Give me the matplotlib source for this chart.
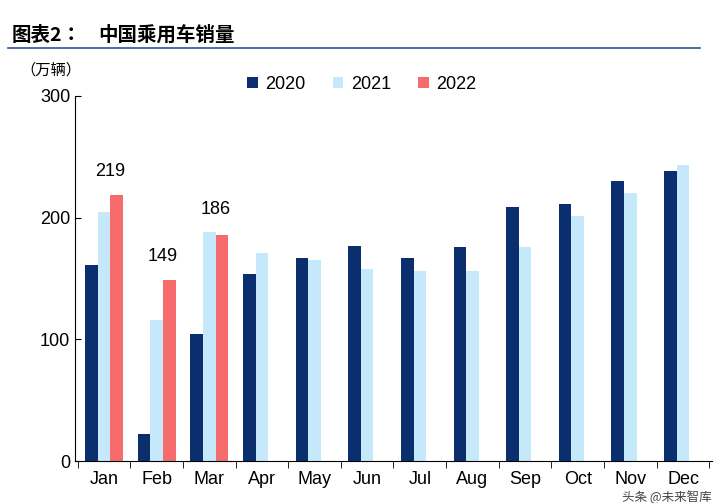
import matplotlib
matplotlib.use("Agg")
import matplotlib.pyplot as plt
from matplotlib.font_manager import FontProperties
import numpy as np

plt.rcParams['font.family'] = 'Liberation Sans'
CJKB = FontProperties(fname="/usr/share/fonts/opentype/noto/NotoSansCJK-Bold.ttc")
CJKR = FontProperties(fname="/usr/share/fonts/opentype/noto/NotoSansCJK-Regular.ttc")

months = ["Jan","Feb","Mar","Apr","May","Jun","Jul","Aug","Sep","Oct","Nov","Dec"]
s2020 = [161, 22, 104, 154, 167, 177, 167, 176, 209, 211, 230, 238]
s2021 = [205, 116, 188, 171, 165, 158, 156, 156, 176, 201, 220, 243]
s2022 = [219, 149, 186]
yticks = [0, 100, 200, 300]

fig = plt.figure(figsize=(7.16, 5.03), dpi=100)
ax = fig.add_axes([75/716, 1-461/503, 637/716, 365/503])
x = np.arange(len(months))
w = 0.24
ax.bar(x - w, s2020, w, color="#0b2f6e", label="2020")
ax.bar(x, s2021, w, color="#c5e9fb", label="2021")
ax.bar(x[:3] + w, s2022, w, color="#f66b6b", label="2022")
for i, v in enumerate(s2022):
    ax.text(x[i] + w/2, max(v, s2021[i]) + 12, str(v), ha="center", va="bottom", fontsize=13)
ax.set_xlim(-0.55, 11.55)
ax.set_ylim(0, 300)
ax.set_yticks(yticks)
ax.set_xticks(x)
ax.set_xticklabels(months, fontsize=13)
ax.tick_params(axis='y', labelsize=13, direction='in', length=4)
ax.set_xticks(np.arange(-0.5, 12, 1), minor=True)
ax.tick_params(axis='x', which='major', length=0, pad=7)
ax.tick_params(axis='x', which='minor', length=5, direction='out')
for s in ["top", "right"]:
    ax.spines[s].set_visible(False)
ax.legend(loc="upper center", bbox_to_anchor=(0.45, 1.1), ncol=3, frameon=False,
          fontsize=13, handlelength=0.6, handleheight=0.6, columnspacing=1.5, handletextpad=0.4)

fig.text(12/716, 1-35/503, "图表2：", fontsize=14, va="center", fontproperties=CJKB)
fig.text(98/716, 1-35/503, "中国乘用车销量", fontsize=14, va="center", fontproperties=CJKB)
fig.add_artist(plt.Line2D([8/716, 700/716], [1-48/503, 1-48/503], color="#2e5597", lw=1.2))
fig.text(20/716, 1-70/503, "（万辆）", fontsize=11, va="center", fontproperties=CJKR)
fig.text(712/716, 1-497/503, "头条 @未来智库", fontsize=9, ha="right", va="center", color="#444444", fontproperties=CJKR)
fig.savefig("out.png", dpi=100)
